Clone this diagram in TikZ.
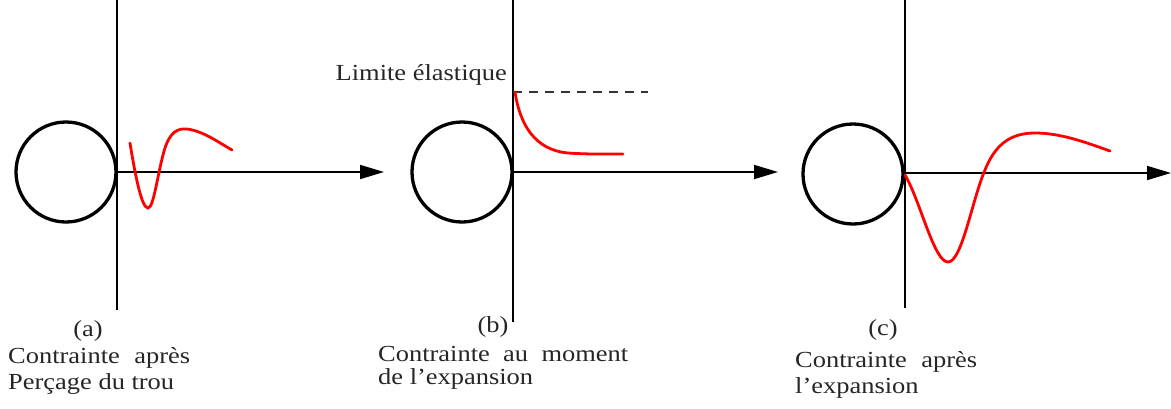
\documentclass[tikz,border=0pt]{standalone}
\usepackage{fontspec}
\setmainfont{Liberation Serif}[FakeStretch=1.15]
\usetikzlibrary{arrows.meta}
\begin{document}
\begin{tikzpicture}[x=1pt,y=-1pt,
  axis/.style={line width=1.8pt,black},
  axisarrow/.style={axis,-{Triangle[length=24pt,width=14pt]}},
  hole/.style={circle,draw=black,line width=3.3pt,minimum size=100pt,inner sep=0pt},
  curve/.style={red,line width=2.8pt,line cap=round},
  lbl/.style={font=\fontsize{23}{26}\selectfont,inner sep=0pt,text=black!85},
]
\useasboundingbox (0,0) rectangle (1171,408);
% panel a
\coordinate (a0) at (117,172);
\coordinate (atop) at (117,0);
\coordinate (abot) at (117,310);
\coordinate (aend) at (384,172);
\node[hole] (ha) at (66,172) {};
\draw[axis] (atop) -- (abot);
\draw[axisarrow] (a0) -- (aend);
\draw[curve] (130,143) .. controls (136,180) and (142,208) .. (148,208)
  .. controls (154,208) and (158,170) .. (165,148)
  .. controls (170,133) and (177,128) .. (187,129)
  .. controls (203,131) and (218,142) .. (232,150);
% panel b
\coordinate (b0) at (513,172);
\coordinate (btop) at (513,0);
\coordinate (bbot) at (513,322);
\coordinate (bend) at (778,172);
\coordinate (bdash) at (648,92);
\coordinate (blim) at (513,92);
\node[hole] (hb) at (462,172) {};
\draw[axis] (btop) -- (bbot);
\draw[axisarrow] (b0) -- (bend);
\draw[line width=2pt,black!80,dash pattern=on 9pt off 7pt] (blim) -- (bdash);
\draw[curve] (515,92) .. controls (520,125) and (535,150) .. (568,153)
  .. controls (590,154.5) and (610,154) .. (623,154);
\node[lbl,anchor=base east] (limit) at (507,80) {Limite élastique};
% panel c
\coordinate (c0) at (905,173);
\coordinate (ctop) at (905,0);
\coordinate (cbot) at (905,308);
\coordinate (cend) at (1171,173);
\node[hole] (hc) at (853,174) {};
\draw[axis] (ctop) -- (cbot);
\draw[axisarrow] (c0) -- (cend);
\draw[curve] (905,175) .. controls (920,200) and (934,262) .. (948,262)
  .. controls (962,262) and (972,200) .. (985,170)
  .. controls (995,145) and (1010,133) .. (1035,133)
  .. controls (1060,133) and (1085,142) .. (1110,151);
% labels
\node[lbl] (la) at (88,331) {(a)};
\node[lbl,anchor=west] (la1) at (8,358) {\makebox[182pt][s]{Contrainte après}};
\node[lbl,anchor=west] (la2) at (8,384) {Perçage du trou};
\node[lbl] (lb) at (493,327) {(b)};
\node[lbl,anchor=west] (lb1) at (378,354) {\makebox[250pt][s]{Contrainte au moment}};
\node[lbl,anchor=west] (lb2) at (378,379) {de l’expansion};
\node[lbl] (lc) at (883,330) {(c)};
\node[lbl,anchor=west] (lc1) at (795,362) {\makebox[182pt][s]{Contrainte après}};
\node[lbl,anchor=west] (lc2) at (795,388) {l’expansion};
\end{tikzpicture}
\end{document}
